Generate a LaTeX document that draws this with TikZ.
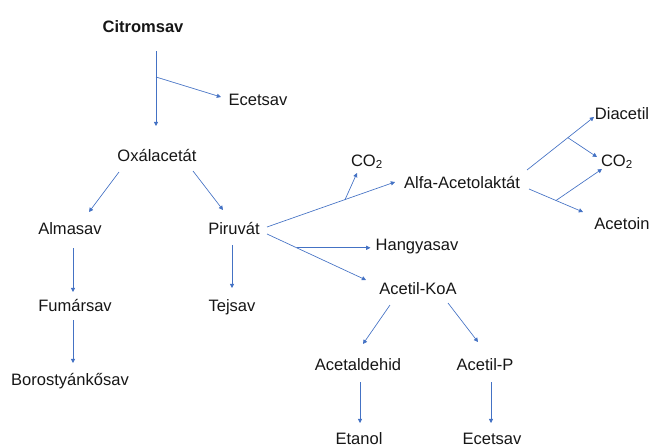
\documentclass[tikz,border=0pt]{standalone}
\usepackage{fontspec}
\setmainfont{Liberation Sans}
\usetikzlibrary{arrows.meta,calc}
\definecolor{link}{RGB}{68,114,196}
\definecolor{ink}{RGB}{22,22,22}
\tikzset{
  chem/.style={font=\fontsize{12.4}{14}\selectfont, text=ink, inner sep=0pt, anchor=base},
  flow/.style={-{Triangle[length=1.1mm,width=1.1mm]}, link, line width=0.5pt},
}
\begin{document}
\begin{tikzpicture}[x=0.75pt,y=-0.75pt]
    \useasboundingbox (0,0) rectangle (651,446);
    % compounds, placed at (centre x, baseline)
    \node[chem, font=\fontsize{12.4}{14}\selectfont\bfseries] (citrom) at (143,32) {Citromsav};
    \node[chem] (ecet1)   at (258,105) {Ecetsav};
    \node[chem] (oxal)    at (157,161) {Oxálacetát};
    \node[chem] (alma)    at (70,234)  {Almasav};
    \node[chem] (piru)    at (234,234) {Piruvát};
    \node[chem] (fumar)   at (75,311)  {Fumársav};
    \node[chem] (tej)     at (232,311) {Tejsav};
    \node[chem] (boros)   at (70,385)  {Borostyánkősav};
    \node[chem] (co2a)    at (367,166) {CO\textsubscript{2}};
    \node[chem] (alfa)    at (462,188) {Alfa-Acetolaktát};
    \node[chem] (diac)    at (622,119) {Diacetil};
    \node[chem] (co2b)    at (617,166) {CO\textsubscript{2}};
    \node[chem] (acetoin) at (622,229) {Acetoin};
    \node[chem] (hangya)  at (417,250) {Hangyasav};
    \node[chem] (koa)     at (418,294) {Acetil-KoA};
    \node[chem] (ald)     at (358,370) {Acetaldehid};
    \node[chem] (acp)     at (485,370) {Acetil-P};
    \node[chem] (etanol)  at (359,444) {Etanol};
    \node[chem] (ecet2)   at (492,444) {Ecetsav};
    % citric acid branch
    \draw[flow] ($(citrom.base)+(13,19)$) -- ($(oxal.base)+(-1,-35)$);
    \coordinate (fork1) at ($(citrom.base)+(13,45)$);
    \draw[flow] (fork1) -- ($(ecet1.base)+(-37,-8)$);
    \draw[flow] ($(oxal.base)+(-38,11)$) -- ($(alma.base)+(19,-22)$);
    \draw[flow] ($(oxal.base)+(36,10)$) -- ($(piru.base)+(-11,-24)$);
    \draw[flow] ($(alma.base)+(3,14)$) -- ($(fumar.base)+(-2,-19)$);
    \draw[flow] ($(fumar.base)+(-2,9)$) -- ($(boros.base)+(3,-22)$);
    \draw[flow] ($(piru.base)+(-2,11)$) -- ($(tej.base)+(0,-23)$);
    % pyruvate
    \coordinate (p1) at ($(piru.base)+(33,-7)$);
    \coordinate (a1) at ($(alfa.base)+(-67,-6)$);
    \draw[flow] (p1) -- (a1);
    \coordinate (fork2) at ($(p1)!0.61!(a1)$);
    \draw[flow] (fork2) -- ($(co2a.base)+(-10,7)$);
    \coordinate (p2) at ($(piru.base)+(33,0)$);
    \coordinate (k1) at ($(koa.base)+(-52,-14)$);
    \draw[flow] (p2) -- (k1);
    \coordinate (fork3) at ($(p2)!0.3!(k1)$);
    \draw[flow] (fork3) -- ($(fork3 -| hangya.west)+(-5,0)$);
    % acetolactate
    \coordinate (a2) at ($(alfa.base)+(65,-18)$);
    \coordinate (d1) at ($(diac.base)+(-28,-2)$);
    \draw[flow] (a2) -- (d1);
    \draw[flow] ($(a2)!0.61!(d1)$) -- ($(co2b.base)+(-20,-9)$);
    \coordinate (a3) at ($(alfa.base)+(67,1)$);
    \coordinate (t1) at ($(acetoin.base)+(-39,-17)$);
    \draw[flow] (a3) -- (t1);
    \draw[flow] ($(a3)!0.5!(t1)$) -- ($(co2b.base)+(-15,3)$);
    % acetyl-CoA
    \draw[flow] ($(koa.base)+(-28,11)$) -- ($(ald.base)+(5,-26)$);
    \draw[flow] ($(koa.base)+(30,9)$) -- ($(acp.base)+(-7,-28)$);
    \draw[flow] ($(ald.base)+(2,12)$) -- ($(etanol.base)+(1,-21)$);
    \draw[flow] ($(acp.base)+(6,12)$) -- ($(ecet2.base)+(-1,-21)$);
\end{tikzpicture}
\end{document}
